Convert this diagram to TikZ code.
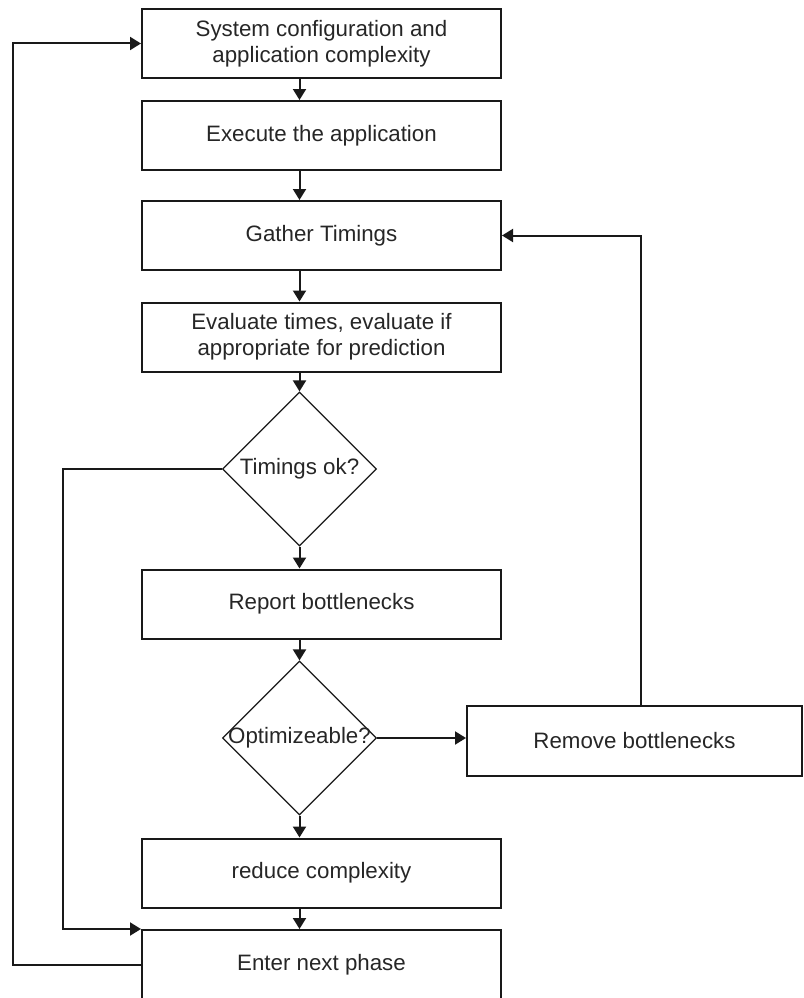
\documentclass[tikz,border=0pt]{standalone}
\usepackage{fontspec}
\setmainfont{Liberation Sans}
\usetikzlibrary{arrows.meta,shapes.geometric}
\begin{document}
\begin{tikzpicture}[x=1pt,y=-1pt,
  every node/.style={font=\fontsize{22.3}{26}\selectfont, text=black!85},
  stepbox/.style={draw=black!90, line width=2pt, minimum width=359pt,
    minimum height=69pt, inner sep=0pt, align=center},
  decision/.style={draw=black!90, line width=1.2pt, shape=diamond,
    minimum width=154pt, minimum height=154pt, inner sep=0pt},
  flow/.style={draw=black!90, line width=2pt,
    -{Triangle[length=11pt,width=13pt]}}]
\useasboundingbox (0,0) rectangle (803,998);
\clip (0,0) rectangle (803,998);

% main column
\node[stepbox] (b1) at (321.5,43.5) {System configuration and\\application complexity};
\node[stepbox] (b2) at (321.5,135.5) {Execute the application};
\node[stepbox] (b3) at (321.5,235.5) {Gather Timings};
\node[stepbox] (b4) at (321.5,337) {Evaluate times, evaluate if\\appropriate for prediction};
\node[decision] (d1) at (299.5,469) {};
\node (d1t) at (d1) {Timings ok?};
\node[stepbox] (b5) at (321.5,604) {Report bottlenecks};
\node[decision] (d2) at (299.5,738) {};
\node (d2t) at (d2) {Optimizeable?};
\node[stepbox] (b6) at (321.5,873) {reduce complexity};
\node[stepbox, minimum height=70pt] (b7) at (321.5,965) {Enter next phase};

% side branch
\node[stepbox, minimum width=335pt, minimum height=70pt] (rm) at (634.5,741) {Remove bottlenecks};

% lanes of the loops
\coordinate (lane0) at (13,0);
\coordinate (lane1) at (63,0);
\coordinate (lane2) at (641,0);

% straight flow
\draw[flow] (b1.south -| d1.north) -- (b2.north -| d1.north);
\draw[flow] (b2.south -| d1.north) -- (b3.north -| d1.north);
\draw[flow] (b3.south -| d1.north) -- (b4.north -| d1.north);
\draw[flow] (b4.south -| d1.north) -- (d1.north);
\draw[flow] (d1.south) -- (b5.north -| d1.south);
\draw[flow] (b5.south -| d2.north) -- (d2.north);
\draw[flow] (d2.south) -- (b6.north -| d2.south);
\draw[flow] (b6.south -| d2.south) -- (b7.north -| d2.south);

% branches and loops
\draw[flow] (d2.east) -- (d2.east -| rm.west);
\draw[flow] (rm.north -| lane2) |- (b3.east);
\draw[flow] (d1.west) -- (d1.west -| lane1) |- (b7.north west);
\draw[flow] (b7.west) -- (b7.west -| lane0) |- (b1.west);
\end{tikzpicture}
\end{document}
